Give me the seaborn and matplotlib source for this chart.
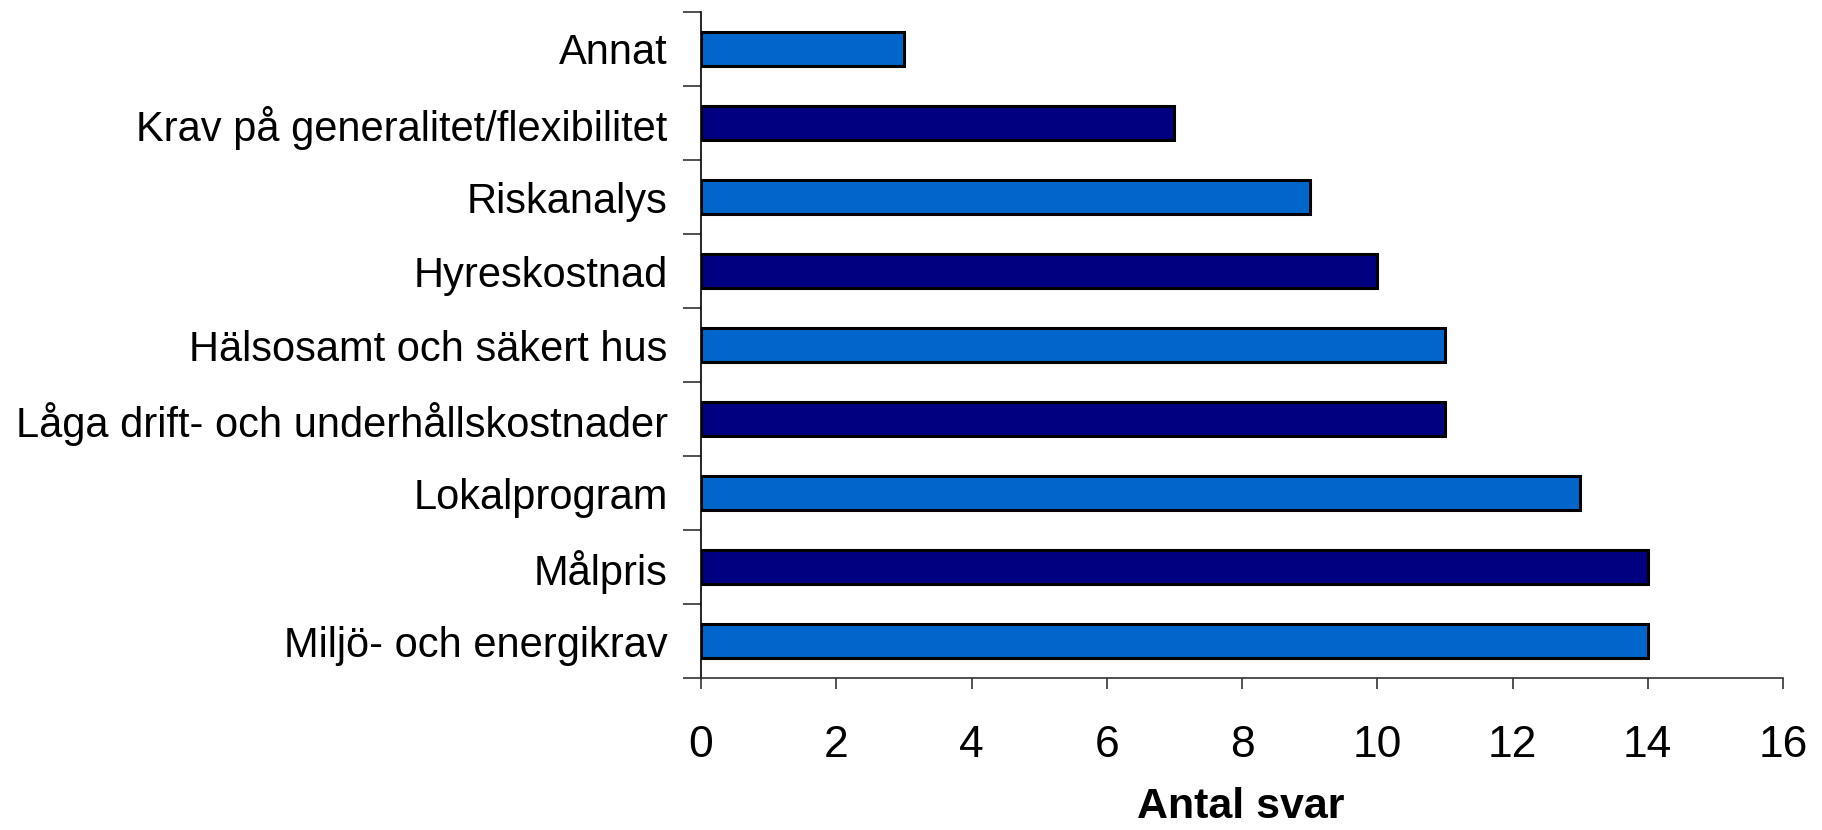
import seaborn as sns
import pandas as pd
import matplotlib.pyplot as plt
import numpy as np

categories = ['Annat', 'Krav på generalitet/flexibilitet', 'Riskanalys', 'Hyreskostnad',
              'Hälsosamt och säkert hus', 'Låga drift- och underhållskostnader',
              'Lokalprogram', 'Målpris', 'Miljö- och energikrav']
values = [3, 7, 9, 10, 11, 11, 13, 14, 14]
colors = ['#0066CC', '#000080', '#0066CC', '#000080', '#0066CC',
          '#000080', '#0066CC', '#000080', '#0066CC']

df = pd.DataFrame({'kategori': categories, 'antal': values})

sns.set_style('white')
plt.rcParams['font.family'] = ['Liberation Sans', 'DejaVu Sans']
plt.rcParams['text.color'] = 'black'
plt.rcParams['xtick.color'] = 'black'
plt.rcParams['ytick.color'] = 'black'
plt.rcParams['axes.labelcolor'] = 'black'

fig = plt.figure(figsize=(18.22, 8.30), dpi=100)
ax = fig.add_axes([701 / 1822, 1 - 678 / 830, (1783 - 701) / 1822, (678 - 12) / 830])

sns.barplot(data=df, x='antal', y='kategori', hue='kategori', palette=colors,
            saturation=1, legend=False, width=0.45, edgecolor='black',
            linewidth=2.2, ax=ax)

ax.set_xlim(0, 16)
ax.set_ylim(8.5, -0.5)
ax.set_xticks(range(0, 17, 2))
ax.tick_params(axis='x', labelsize=32, length=8, width=1.2, color='#333333',
               pad=25.5, direction='out', bottom=True)

# y ticks sit between the bars
ax.set_yticks(range(len(categories)))
ax.set_yticklabels(categories)
ax.tick_params(axis='y', which='major', length=0, labelsize=30, pad=24)
ax.set_yticks(np.arange(-0.5, len(categories), 1), minor=True)
ax.tick_params(axis='y', which='minor', length=13, width=1.2, color='#333333',
               direction='out', left=True)

for side in ['top', 'right']:
    ax.spines[side].set_visible(False)
ax.spines['left'].set_color('black')
ax.spines['left'].set_linewidth(1.2)
ax.spines['bottom'].set_color('#333333')
ax.spines['bottom'].set_linewidth(1.2)

ax.set_ylabel('')
ax.set_xlabel('Antal svar', fontsize=31, fontweight='bold', va='baseline')
ax.xaxis.set_label_coords(0.4985, -(818 - 678) / 666)

fig.savefig('out.png', dpi=100)
